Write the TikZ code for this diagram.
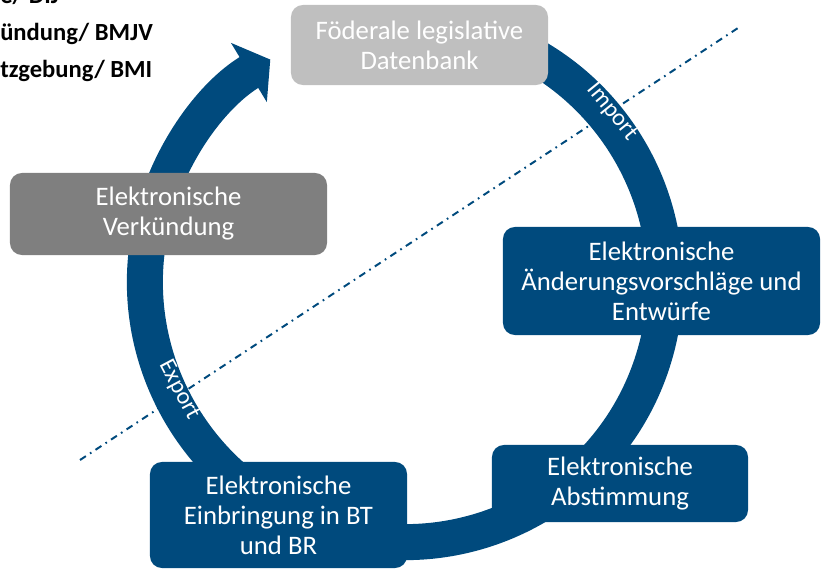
\documentclass[tikz,border=0pt]{standalone}
\usepackage{fontspec}
\setmainfont{Carlito}
\usetikzlibrary{arrows.meta}

\definecolor{bmblue}{RGB}{0,74,125}
\definecolor{darkbox}{RGB}{127,127,127}
\definecolor{lightbox}{RGB}{191,191,191}

\tikzset{
  stage/.style={rounded corners=0.3cm, inner sep=0pt, align=center, text=white,
    font=\fontsize{19}{21.3}\selectfont},
  ring/.style={draw=bmblue, line width=0.9cm, -{Triangle[width=1.7cm,length=0.625cm]}},
  ringlabel/.style={text=white, font=\fontsize{17}{19}\selectfont, inner sep=0pt},
  cutline/.style={draw=bmblue, line width=1.4pt, dash pattern=on 5pt off 3.5pt on 1.2pt off 3.5pt},
  owner/.style={anchor=base west, inner sep=0pt, font=\fontsize{17.5}{20}\selectfont\bfseries}
}

\begin{document}
\begin{tikzpicture}[x=0.025cm, y=0.025cm]
        \useasboundingbox (0,0) rectangle (821,571);

        % dash-dot separator
        \coordinate (cutA) at (80,111);
        \coordinate (cutB) at (738,543);
	\draw[cutline] (cutA) -- (cutB);

        % circular arrow
        \coordinate (hub) at (405,289);
	\draw[ring] ([shift={(75:6.5cm)}]hub) arc[start angle=75, end angle=-238.8, radius=6.5cm];

        % stages
	\node[stage, fill=lightbox, minimum width=6.425cm, minimum height=2cm] (db) at (419.5,526) {Föderale legislative\\Datenbank};
	\node[stage, fill=darkbox, minimum width=7.925cm, minimum height=2.05cm] (verk) at (168.5,357) {Elektronische\\Verkündung};
	\node[stage, fill=bmblue, minimum width=7.925cm, minimum height=2.7cm] (aend) at (661.5,290) {Elektronische\\Änderungsvorschläge und\\Entwürfe};
	\node[stage, fill=bmblue, minimum width=6.4cm, minimum height=1.925cm] (abst) at (620,87.5) {Elektronische\\Abstimmung};
	\node[stage, fill=bmblue, minimum width=6.425cm, minimum height=2.65cm] (einb) at (278.5,56) {Elektronische\\Einbringung in BT\\und BR};

        % labels on the ring
	\node[ringlabel, rotate=-51] (import) at (612,459) {Import};
	\node[ringlabel, rotate=-62] (export) at (179,181) {Export};

        % legend fragments, top left
	\node[owner] (own1) at (0,567) {e/ DIJ};
	\node[owner] (own2) at (0,530) {ündung/ BMJV};
	\node[owner] (own3) at (0,493) {tzgebung/ BMI};

\end{tikzpicture}
\end{document}
